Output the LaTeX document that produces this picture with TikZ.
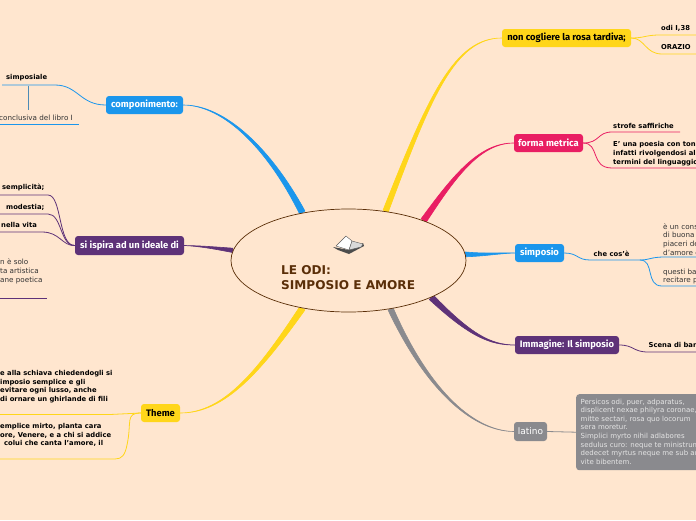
\documentclass[tikz,border=0pt]{standalone}
\usepackage{fontspec}
\setmainfont{DejaVu Sans}
\newfontfamily\boxfont{Fira Sans}
\usetikzlibrary{calc,backgrounds,shapes.geometric}
\definecolor{bgc}{HTML}{FFE6CF}
\definecolor{myblue}{HTML}{1B96EC}
\definecolor{mypink}{HTML}{E91E63}
\definecolor{myyellow}{HTML}{FFD61A}
\definecolor{mypurple}{HTML}{5E3278}
\definecolor{mygray}{HTML}{8A8A8E}
\definecolor{mybrown}{HTML}{5A2E08}
\tikzset{x=1pt,y=-1pt,
 topic/.style={rounded corners=3pt,inner sep=0pt,font=\boxfont\fontsize{9.4}{10}\selectfont\bfseries,text=white},
 small/.style={inner sep=0pt,anchor=west,align=left,font=\fontsize{7.2}{8.7}\selectfont,text=black!80},
 smallb/.style={small,font=\fontsize{6.8}{8.7}\selectfont\bfseries,text=black},
 sub/.style={line width=.8pt}}
\newcommand{\taper}[7]{%
 \filldraw[#1,line width=.6pt,line join=round] ($#2+(#6,#7)$) .. controls ($#3+0.5*(#6,#7)$) and ($#4+0.15*(#6,#7)$) .. #5 .. controls ($#4-0.15*(#6,#7)$) and ($#3-0.5*(#6,#7)$) .. ($#2-(#6,#7)$) -- cycle;}
\begin{document}
\begin{tikzpicture}
\useasboundingbox (0,0) rectangle (696,520);
\clip (0,0) rectangle (696,520);
\node[ellipse,draw=mybrown,fill=bgc,line width=.7pt,minimum width=235pt,minimum height=103pt,inner sep=0pt] (c) at (348.5,260.5) {};
\node[anchor=west,align=left,inner sep=0pt,text=mybrown,font=\fontsize{12.1}{15}\selectfont\bfseries] (title) at (281,278) {LE ODI:\\SIMPOSIO E AMORE};
% topics
\node[topic,fill=myblue,minimum width=77pt,minimum height=18pt] (comp) at (144.5,105) {componimento:};
\node[topic,fill=mypurple,minimum width=109pt,minimum height=19pt] (ideale) at (129.5,245.5) {si ispira ad un ideale di};
\node[topic,fill=myyellow,text=black,minimum width=39pt,minimum height=18pt] (theme) at (160.5,413) {Theme};
\node[topic,fill=myyellow,text=black,minimum width=129pt,minimum height=18pt] (rosa) at (566.5,38) {non cogliere la rosa tardiva;};
\node[topic,fill=mypink,minimum width=69pt,minimum height=18pt] (forma) at (548.5,143) {forma metrica};
\node[topic,fill=myblue,minimum width=49pt,minimum height=18pt] (simp) at (539.5,253) {simposio};
\node[topic,fill=mypurple,minimum width=104pt,minimum height=18pt] (imm) at (567,345) {Immagine: Il simposio};
\node[topic,fill=mygray,font=\fontsize{9}{10}\selectfont,minimum width=33pt,minimum height=19pt] (lat) at (530.5,431.5) {latino};
\node[topic,fill=mygray,anchor=north west,minimum width=140pt,minimum height=76pt] (testo) at (576,394) {};
\node[small,anchor=north west,text=white!90!black,font=\fontsize{7}{8.6}\selectfont] (testot) at (580.5,398.5) {Persicos odi, puer, adparatus,\\displicent nexae philyra coronae,\\mitte sectari, rosa quo locorum\\sera moretur.\\Simplici myrto nihil adlabores\\sedulus curo: neque te ministrum\\dedecet myrtus neque me sub arta\\vite bibentem.};
% texts
\node[smallb] (t1) at (6,77.5) {simposiale};
\node[small] (t2) at (-1,117.5) {conclusiva del libro I};
\node[smallb] (t3) at (2,187.5) {semplicità;};
\node[smallb] (t4) at (6,207.5) {modestia;};
\node[smallb] (t5) at (1,224.5) {nella vita};
\node[small] (t6) at (0,271.5) {n è solo\\ta artistica\\ane poetica};
\node[smallb] (t7) at (0,386.5) {e alla schiava chiedendogli si\\imposio semplice e gli\\evitare ogni lusso, anche\\di ornare un ghirlande di fili};
\node[smallb] (t8) at (0,435) {emplice mirto, planta cara\\ore, Venere, e a chi si addice\\\hspace*{4pt}colui che canta l'amore, il};
\node[smallb] (t9) at (661,28.5) {odi I,38};
\node[smallb] (t10) at (661,47.5) {ORAZIO};
\node[smallb] (t11) at (613,125.5) {strofe saffiriche};
\node[smallb] (t12) at (613,153.5) {E' una poesia con ton\\infatti rivolgendosi al\\termini del linguaggio};
\node[smallb] (t13) at (593.5,253.5) {che cos'è};
\node[small] (t14) at (663,239.5) {è un cons\\di buona\\piaceri de\\d'amore e};
\node[small] (t15) at (663,276.5) {questi ba\\recitare p};
\node[smallb] (t16) at (648.5,345) {Scena di ban};
% free ends
\coordinate (e1) at (2,85); \coordinate (e1a) at (28,85.5); \coordinate (e1b) at (28,110);
\coordinate (e2a) at (-1,124.5); \coordinate (e2b) at (79,124.5);
\coordinate (e3) at (-1,195); \coordinate (e4) at (-1,214); \coordinate (e5) at (-1,232);
\coordinate (e6a) at (-1,298); \coordinate (e6b) at (47,298);
\coordinate (e7) at (-1,414.5); \coordinate (e8) at (-1,459);
\coordinate (e9) at (697,35); \coordinate (e10) at (697,54);
\coordinate (e11) at (680,132); \coordinate (e12) at (697,168);
\coordinate (e13) at (640,260); \coordinate (e14) at (697,257); \coordinate (e15) at (697,286);
\coordinate (e16) at (697,352);
\begin{pgfonlayer}{background}
\fill[bgc] (0,0) rectangle (696,520);
\taper{myyellow}{(c.53)}{(430,95)}{(455,38)}{(rosa.west)}{2.5}{1.3}
\taper{mypink}{(c.28)}{(455,175)}{(480,143)}{(forma.west)}{2.5}{1.8}
\taper{myblue}{(c.3)}{(485,255)}{(500,253)}{(simp.west)}{0}{2.4}
\taper{mypurple}{(c.-24)}{(470,335)}{(490,345)}{(imm.west)}{-2}{2.2}
\taper{mygray}{(c.-49)}{(425,385)}{(470,431)}{(lat.west)}{-2.5}{1.2}
\taper{myblue}{(c.134)}{(270,150)}{(225,105)}{(comp.east)}{-2.5}{1.8}
\taper{mypurple}{(c.175)}{(215,248)}{(200,246)}{(ideale.east)}{0}{2.2}
\taper{myyellow}{(c.226)}{(260,370)}{(225,413)}{(theme.east)}{2.5}{1.8}
\begin{scope}[sub]
\draw[myblue] (comp.west) .. controls (80,105) and (78,85) .. (55,85) -- (e1);
\draw[myblue!50!gray] (e1a) -- (e1b);
\draw[myblue] (e2a) -- (e2b);
\draw[mypurple] (ideale.west) .. controls (58,246) and (62,195) .. (48,195) -- (e3);
\draw[mypurple] (ideale.west) .. controls (60,246) and (62,214) .. (48,214) -- (e4);
\draw[mypurple] (ideale.west) .. controls (62,246) and (60,232) .. (42,232) -- (e5);
\draw[mypurple] (e6a) -- (e6b);
\draw[myyellow] (theme.west) .. controls (125,413) and (125,414.5) .. (110,414.5) -- (e7);
\draw[myyellow] (theme.west) .. controls (125,413) and (132,422) .. (127,445) .. controls (125,455) and (122,459) .. (115,459) -- (e8);
\draw[myyellow] (rosa.east) .. controls (645,38) and (645,35) .. (660,35) -- (e9);
\draw[myyellow] (rosa.east) .. controls (645,38) and (645,54) .. (662,54) -- (e10);
\draw[mypink] (forma.east) .. controls (600,143) and (597,132) .. (612,132) -- (e11);
\draw[mypink] (forma.east) .. controls (600,143) and (590,168) .. (612,168) -- (e12);
\draw[myblue] (simp.east) .. controls (578,253) and (577,260) .. (590,260) -- (e13);
\draw[myblue] (e13) .. controls (650,260) and (650,257) .. (665,257) -- (e14);
\draw[myblue] (e13) .. controls (655,260) and (645,286) .. (662,286) -- (e15);
\draw[mypurple] (imm.east) .. controls (634,345) and (633,352) .. (648,352) -- (e16);
\draw[mygray] (lat.east) -- (testo.west);
\end{scope}
\end{pgfonlayer}
% book icon
\begin{scope}[line join=round]
\fill[black!70] (333,247) -- (338,250) -- (349,254) -- (364,246) -- (363,243) -- (349,250) -- cycle;
\filldraw[fill=white,draw=black!65,line width=.4pt] (336,246) -- (346,236) -- (352,241) -- (349,250) -- cycle;
\filldraw[fill=black!15,draw=black!65,line width=.4pt] (349,250) -- (352,241) -- (363,244) -- (361,247) -- cycle;
\end{scope}
\end{tikzpicture}
\end{document}
